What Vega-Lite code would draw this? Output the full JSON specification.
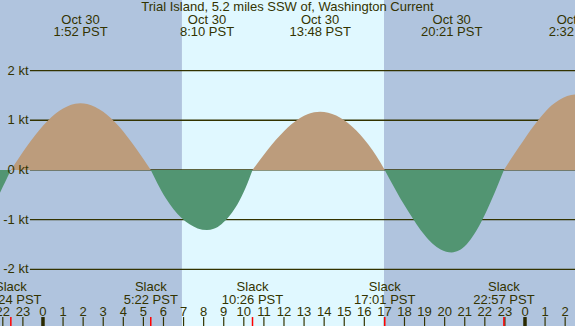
{
  "$schema": "https://vega.github.io/schema/vega-lite/v6.json",
  "width": 575,
  "height": 326,
  "padding": 0,
  "autosize": {"type": "none"},
  "config": {"view": {"stroke": null}, "text": {"font": "Liberation Sans", "fontSize": 13, "color": "#333300"}},
  "datasets": {
    "bands": [
      {"start": -2.14, "end": 6.92, "period": "night"},
      {"start": 6.92, "end": 16.98, "period": "day"},
      {"start": 16.98, "end": 26.49, "period": "night"}
    ],
    "grid": [
      {"kt": 2, "label": "2 kt"},
      {"kt": 1, "label": "1 kt"},
      {"kt": 0, "label": "0 kt"},
      {"kt": -1, "label": "-1 kt"},
      {"kt": -2, "label": "-2 kt"}
    ],
    "curve": [
      {"t": -2.3, "v": -0.59, "seg": "E0", "dir": "ebb"},
      {"t": -2.0, "v": -0.34, "seg": "E0", "dir": "ebb"},
      {"t": -1.8, "v": -0.17, "seg": "E0", "dir": "ebb"},
      {"t": -1.6, "v": 0, "seg": "E0", "dir": "ebb"},
      {"t": -1.6, "v": 0, "seg": "F1", "dir": "flood"},
      {"t": -1.2, "v": 0.241, "seg": "F1", "dir": "flood"},
      {"t": -0.8, "v": 0.475, "seg": "F1", "dir": "flood"},
      {"t": -0.4, "v": 0.693, "seg": "F1", "dir": "flood"},
      {"t": 0.0, "v": 0.889, "seg": "F1", "dir": "flood"},
      {"t": 0.4, "v": 1.055, "seg": "F1", "dir": "flood"},
      {"t": 0.8, "v": 1.186, "seg": "F1", "dir": "flood"},
      {"t": 1.2, "v": 1.279, "seg": "F1", "dir": "flood"},
      {"t": 1.6, "v": 1.33, "seg": "F1", "dir": "flood"},
      {"t": 1.867, "v": 1.34, "seg": "F1", "dir": "flood"},
      {"t": 2.2, "v": 1.325, "seg": "F1", "dir": "flood"},
      {"t": 2.6, "v": 1.268, "seg": "F1", "dir": "flood"},
      {"t": 3.0, "v": 1.17, "seg": "F1", "dir": "flood"},
      {"t": 3.4, "v": 1.035, "seg": "F1", "dir": "flood"},
      {"t": 3.8, "v": 0.867, "seg": "F1", "dir": "flood"},
      {"t": 4.2, "v": 0.67, "seg": "F1", "dir": "flood"},
      {"t": 4.6, "v": 0.451, "seg": "F1", "dir": "flood"},
      {"t": 5.0, "v": 0.22, "seg": "F1", "dir": "flood"},
      {"t": 5.367, "v": 0, "seg": "F1", "dir": "flood"},
      {"t": 5.367, "v": 0, "seg": "E1", "dir": "ebb"},
      {"t": 5.7, "v": -0.27, "seg": "E1", "dir": "ebb"},
      {"t": 6.1, "v": -0.56, "seg": "E1", "dir": "ebb"},
      {"t": 6.5, "v": -0.79, "seg": "E1", "dir": "ebb"},
      {"t": 6.9, "v": -0.965, "seg": "E1", "dir": "ebb"},
      {"t": 7.3, "v": -1.095, "seg": "E1", "dir": "ebb"},
      {"t": 7.7, "v": -1.177, "seg": "E1", "dir": "ebb"},
      {"t": 8.167, "v": -1.21, "seg": "E1", "dir": "ebb"},
      {"t": 8.5, "v": -1.184, "seg": "E1", "dir": "ebb"},
      {"t": 8.9, "v": -1.086, "seg": "E1", "dir": "ebb"},
      {"t": 9.3, "v": -0.917, "seg": "E1", "dir": "ebb"},
      {"t": 9.7, "v": -0.681, "seg": "E1", "dir": "ebb"},
      {"t": 10.1, "v": -0.35, "seg": "E1", "dir": "ebb"},
      {"t": 10.433, "v": 0, "seg": "E1", "dir": "ebb"},
      {"t": 10.433, "v": 0, "seg": "F2", "dir": "flood"},
      {"t": 10.8, "v": 0.199, "seg": "F2", "dir": "flood"},
      {"t": 11.2, "v": 0.41, "seg": "F2", "dir": "flood"},
      {"t": 11.6, "v": 0.606, "seg": "F2", "dir": "flood"},
      {"t": 12.0, "v": 0.781, "seg": "F2", "dir": "flood"},
      {"t": 12.4, "v": 0.929, "seg": "F2", "dir": "flood"},
      {"t": 12.8, "v": 1.045, "seg": "F2", "dir": "flood"},
      {"t": 13.2, "v": 1.124, "seg": "F2", "dir": "flood"},
      {"t": 13.8, "v": 1.17, "seg": "F2", "dir": "flood"},
      {"t": 14.2, "v": 1.152, "seg": "F2", "dir": "flood"},
      {"t": 14.6, "v": 1.095, "seg": "F2", "dir": "flood"},
      {"t": 15.0, "v": 1.0, "seg": "F2", "dir": "flood"},
      {"t": 15.4, "v": 0.87, "seg": "F2", "dir": "flood"},
      {"t": 15.8, "v": 0.71, "seg": "F2", "dir": "flood"},
      {"t": 16.2, "v": 0.51, "seg": "F2", "dir": "flood"},
      {"t": 16.6, "v": 0.28, "seg": "F2", "dir": "flood"},
      {"t": 17.017, "v": 0, "seg": "F2", "dir": "flood"},
      {"t": 17.017, "v": 0, "seg": "E2", "dir": "ebb"},
      {"t": 17.4, "v": -0.29, "seg": "E2", "dir": "ebb"},
      {"t": 17.8, "v": -0.58, "seg": "E2", "dir": "ebb"},
      {"t": 18.2, "v": -0.84, "seg": "E2", "dir": "ebb"},
      {"t": 18.6, "v": -1.09, "seg": "E2", "dir": "ebb"},
      {"t": 19.0, "v": -1.31, "seg": "E2", "dir": "ebb"},
      {"t": 19.4, "v": -1.485, "seg": "E2", "dir": "ebb"},
      {"t": 19.8, "v": -1.6, "seg": "E2", "dir": "ebb"},
      {"t": 20.35, "v": -1.66, "seg": "E2", "dir": "ebb"},
      {"t": 20.7, "v": -1.623, "seg": "E2", "dir": "ebb"},
      {"t": 21.1, "v": -1.493, "seg": "E2", "dir": "ebb"},
      {"t": 21.5, "v": -1.275, "seg": "E2", "dir": "ebb"},
      {"t": 21.9, "v": -0.984, "seg": "E2", "dir": "ebb"},
      {"t": 22.3, "v": -0.635, "seg": "E2", "dir": "ebb"},
      {"t": 22.7, "v": -0.25, "seg": "E2", "dir": "ebb"},
      {"t": 22.95, "v": 0, "seg": "E2", "dir": "ebb"},
      {"t": 22.95, "v": 0, "seg": "F3", "dir": "flood"},
      {"t": 23.3, "v": 0.22, "seg": "F3", "dir": "flood"},
      {"t": 23.7, "v": 0.46, "seg": "F3", "dir": "flood"},
      {"t": 24.1, "v": 0.7, "seg": "F3", "dir": "flood"},
      {"t": 24.5, "v": 0.92, "seg": "F3", "dir": "flood"},
      {"t": 24.9, "v": 1.12, "seg": "F3", "dir": "flood"},
      {"t": 25.3, "v": 1.29, "seg": "F3", "dir": "flood"},
      {"t": 25.7, "v": 1.41, "seg": "F3", "dir": "flood"},
      {"t": 26.1, "v": 1.49, "seg": "F3", "dir": "flood"},
      {"t": 26.533, "v": 1.52, "seg": "F3", "dir": "flood"}
    ],
    "peaks": [
      {"t": 1.867, "date": "Oct 30", "time": "1:52 PST"},
      {"t": 8.167, "date": "Oct 30", "time": "8:10 PST"},
      {"t": 13.8, "date": "Oct 30", "time": "13:48 PST"},
      {"t": 20.35, "date": "Oct 30", "time": "20:21 PST"},
      {"t": 26.533, "date": "Oct 31", "time": "2:32 PST"}
    ],
    "slacks": [
      {"t": -1.6, "label": "Slack", "time": "22:24 PST"},
      {"t": 5.367, "label": "Slack", "time": "5:22 PST"},
      {"t": 10.433, "label": "Slack", "time": "10:26 PST"},
      {"t": 17.017, "label": "Slack", "time": "17:01 PST"},
      {"t": 22.95, "label": "Slack", "time": "22:57 PST"}
    ],
    "hours": [
      {"t": -2, "label": "22"}, {"t": -1, "label": "23"}, {"t": 0, "label": "0"},
      {"t": 1, "label": "1"}, {"t": 2, "label": "2"}, {"t": 3, "label": "3"},
      {"t": 4, "label": "4"}, {"t": 5, "label": "5"}, {"t": 6, "label": "6"},
      {"t": 7, "label": "7"}, {"t": 8, "label": "8"}, {"t": 9, "label": "9"},
      {"t": 10, "label": "10"}, {"t": 11, "label": "11"}, {"t": 12, "label": "12"},
      {"t": 13, "label": "13"}, {"t": 14, "label": "14"}, {"t": 15, "label": "15"},
      {"t": 16, "label": "16"}, {"t": 17, "label": "17"}, {"t": 18, "label": "18"},
      {"t": 19, "label": "19"}, {"t": 20, "label": "20"}, {"t": 21, "label": "21"},
      {"t": 22, "label": "22"}, {"t": 23, "label": "23"}, {"t": 24, "label": "0"},
      {"t": 25, "label": "1"}, {"t": 26, "label": "2"}
    ],
    "midnights": [{"t": 0}, {"t": 24}],
    "title": [{"t": 12.175, "text": "Trial Island, 5.2 miles SSW of, Washington Current"}]
  },
  "layer": [
    {
      "data": {"name": "bands"},
      "mark": {"type": "rect", "clip": true},
      "encoding": {
        "x": {"field": "start", "type": "quantitative", "scale": {"domain": [-2.14, 26.49], "nice": false, "zero": false}, "axis": null},
        "x2": {"field": "end"},
        "y": {"datum": 3.42, "type": "quantitative", "scale": {"domain": [-3.14, 3.42], "nice": false, "zero": false}, "axis": null},
        "y2": {"datum": -3.14},
        "color": {"field": "period", "type": "nominal", "scale": {"domain": ["night", "day"], "range": ["#B0C4DE", "#E0F8FF"]}, "legend": null}
      }
    },
    {
      "data": {"name": "grid"},
      "mark": {"type": "rule", "color": "#333300", "strokeWidth": 1.3},
      "encoding": {
        "x": {"datum": -0.65, "type": "quantitative"},
        "x2": {"datum": 26.49},
        "y": {"field": "kt", "type": "quantitative"}
      }
    },
    {
      "data": {"name": "curve"},
      "mark": {"type": "area", "clip": true, "interpolate": "monotone"},
      "encoding": {
        "x": {"field": "t", "type": "quantitative"},
        "y": {"field": "v", "type": "quantitative"},
        "y2": {"datum": 0},
        "detail": {"field": "seg"},
        "fill": {"field": "dir", "type": "nominal", "scale": {"domain": ["flood", "ebb"], "range": ["#BC9C7C", "#529572"]}, "legend": null}
      }
    },
    {
      "data": {"name": "grid"},
      "mark": {"type": "text", "align": "right", "baseline": "middle"},
      "encoding": {
        "x": {"datum": -0.72, "type": "quantitative"},
        "y": {"field": "kt", "type": "quantitative"},
        "text": {"field": "label"}
      }
    },
    {
      "data": {"name": "title"},
      "mark": {"type": "text", "align": "center", "baseline": "middle"},
      "encoding": {
        "x": {"field": "t", "type": "quantitative"},
        "y": {"datum": 3.28, "type": "quantitative"},
        "text": {"field": "text"}
      }
    },
    {
      "data": {"name": "peaks"},
      "mark": {"type": "text", "align": "center", "baseline": "middle"},
      "encoding": {
        "x": {"field": "t", "type": "quantitative"},
        "y": {"datum": 3.02, "type": "quantitative"},
        "text": {"field": "date"}
      }
    },
    {
      "data": {"name": "peaks"},
      "mark": {"type": "text", "align": "center", "baseline": "middle"},
      "encoding": {
        "x": {"field": "t", "type": "quantitative"},
        "y": {"datum": 2.78, "type": "quantitative"},
        "text": {"field": "time"}
      }
    },
    {
      "data": {"name": "slacks"},
      "mark": {"type": "text", "align": "center", "baseline": "middle"},
      "encoding": {
        "x": {"field": "t", "type": "quantitative"},
        "y": {"datum": -2.354, "type": "quantitative"},
        "text": {"field": "label"}
      }
    },
    {
      "data": {"name": "slacks"},
      "mark": {"type": "text", "align": "center", "baseline": "middle"},
      "encoding": {
        "x": {"field": "t", "type": "quantitative"},
        "y": {"datum": -2.616, "type": "quantitative"},
        "text": {"field": "time"}
      }
    },
    {
      "data": {"name": "hours"},
      "mark": {"type": "text", "align": "center", "baseline": "middle"},
      "encoding": {
        "x": {"field": "t", "type": "quantitative"},
        "y": {"datum": -2.851, "type": "quantitative"},
        "text": {"field": "label"}
      }
    },
    {
      "data": {"name": "hours"},
      "mark": {"type": "rule", "color": "#333300", "strokeWidth": 1.2},
      "encoding": {
        "x": {"field": "t", "type": "quantitative"},
        "y": {"datum": -2.96, "type": "quantitative"},
        "y2": {"datum": -3.14}
      }
    },
    {
      "data": {"name": "slacks"},
      "mark": {"type": "rule", "color": "#FF0000", "strokeWidth": 1.5},
      "encoding": {
        "x": {"field": "t", "type": "quantitative"},
        "y": {"datum": -2.96, "type": "quantitative"},
        "y2": {"datum": -3.14}
      }
    },
    {
      "data": {"name": "midnights"},
      "mark": {"type": "rule", "color": "#2A2A00", "strokeWidth": 3.5},
      "encoding": {
        "x": {"field": "t", "type": "quantitative"},
        "y": {"datum": -2.96, "type": "quantitative"},
        "y2": {"datum": -3.14}
      }
    }
  ]
}
